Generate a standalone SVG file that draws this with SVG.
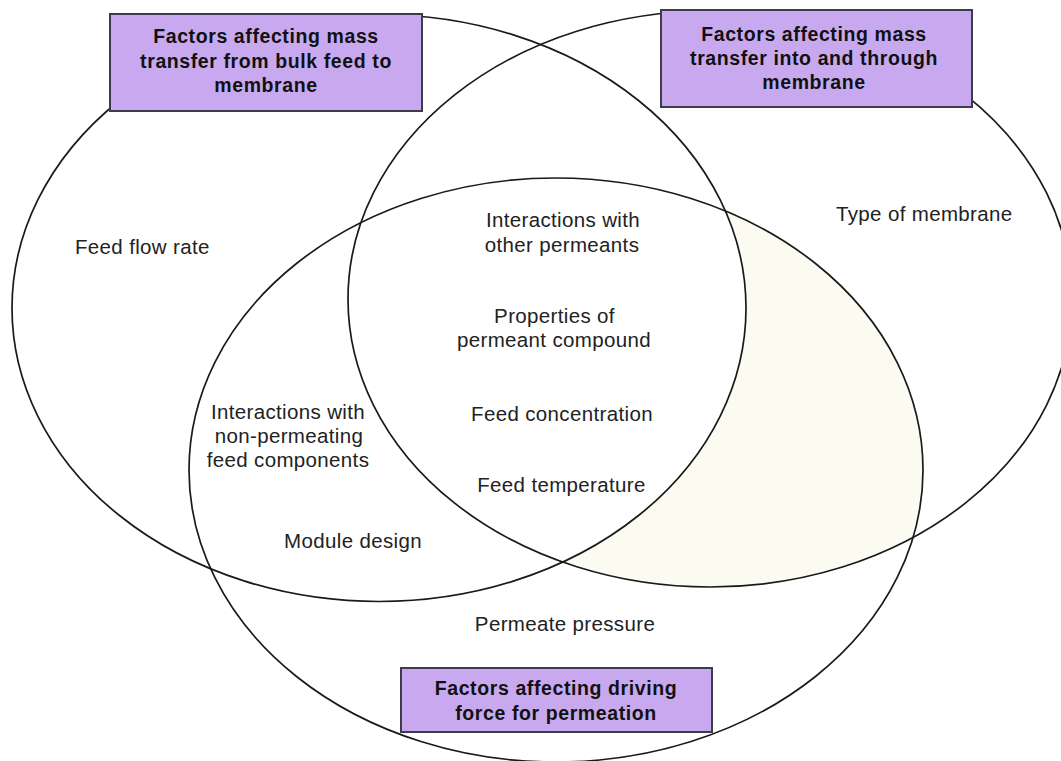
<svg xmlns="http://www.w3.org/2000/svg" width="1061" height="761" viewBox="0 0 1061 761">
<defs>
<style>
.set{fill:none;stroke:#1a1a1a;stroke-width:1.7}
.box{fill:#c8a9f0;stroke:#3c3c4c;stroke-width:2}
.bt{font-family:"Liberation Sans",Arial,Helvetica,sans-serif;font-weight:bold;font-size:19.5px;letter-spacing:0.6px;fill:#111;text-anchor:middle}
.t{font-family:"Liberation Sans",Arial,Helvetica,sans-serif;font-size:20.5px;letter-spacing:0.35px;fill:#222;text-anchor:middle}
</style>
<clipPath id="clipB"><ellipse cx="710" cy="299" rx="362" ry="288"/></clipPath>
</defs>
<rect width="1061" height="761" fill="#fff"/>
<g id="tint">
<ellipse cx="556" cy="470" rx="367" ry="292" fill="#fbfbf2" clip-path="url(#clipB)"/>
<ellipse cx="379" cy="308" rx="367" ry="293.5" fill="#fff"/>
</g>
<g id="sets">
<ellipse id="setA" class="set" cx="379" cy="308" rx="367" ry="293.5"/>
<ellipse id="setB" class="set" cx="710" cy="299" rx="362" ry="288"/>
<ellipse id="setC" class="set" cx="556" cy="470" rx="367" ry="292"/>
</g>
<g id="box-bulk">
<rect class="box" x="110" y="14" width="312" height="97"/>
<text class="bt" x="266" y="42.5">Factors affecting mass</text>
<text class="bt" x="266" y="67.5">transfer from bulk feed to</text>
<text class="bt" x="266" y="92">membrane</text>
</g>
<g id="box-membrane">
<rect class="box" x="661" y="10" width="311" height="97"/>
<text class="bt" x="814" y="41">Factors affecting mass</text>
<text class="bt" x="814" y="65">transfer into and through</text>
<text class="bt" x="814" y="88.5">membrane</text>
</g>
<g id="box-driving">
<rect class="box" x="401" y="668" width="311" height="64"/>
<text class="bt" x="556" y="695">Factors affecting driving</text>
<text class="bt" x="556" y="719.5">force for permeation</text>
</g>
<g id="label-feed-flow"><text class="t" x="75" y="253.5" style="text-anchor:start">Feed flow rate</text></g>
<g id="label-type-membrane"><text class="t" x="836" y="221" style="text-anchor:start">Type of membrane</text></g>
<g id="label-other-permeants">
<text class="t" x="563" y="227">Interactions with</text>
<text class="t" x="562" y="251.7">other permeants</text>
</g>
<g id="label-properties">
<text class="t" x="554.5" y="322.7">Properties of</text>
<text class="t" x="554" y="346.7">permeant compound</text>
</g>
<g id="label-concentration"><text class="t" x="562" y="420.7">Feed concentration</text></g>
<g id="label-temperature"><text class="t" x="561.5" y="491.7">Feed temperature</text></g>
<g id="label-non-permeating">
<text class="t" x="288" y="419">Interactions with</text>
<text class="t" x="289" y="443.3">non-permeating</text>
<text class="t" x="288" y="466.7">feed components</text>
</g>
<g id="label-module"><text class="t" x="353" y="548.3">Module design</text></g>
<g id="label-permeate-pressure"><text class="t" x="565" y="630.7">Permeate pressure</text></g>
</svg>
